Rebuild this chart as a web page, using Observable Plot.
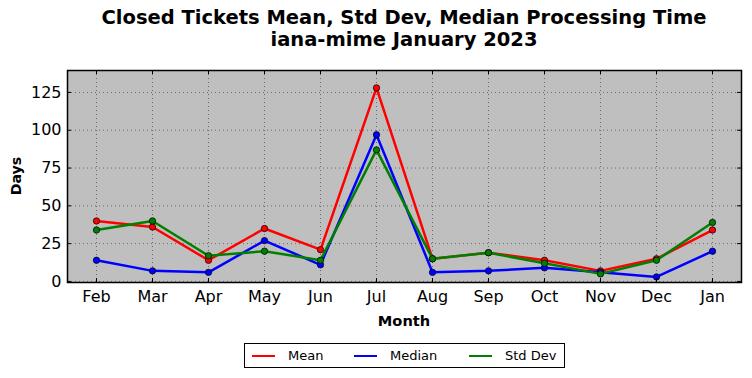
<!DOCTYPE html>
<html><head><meta charset="utf-8">
<script src="https://cdn.jsdelivr.net/npm/d3@7"></script>
<script src="https://cdn.jsdelivr.net/npm/@observablehq/plot@0.6"></script>
<style>
body{margin:0;background:#fff;font-family:"DejaVu Sans",sans-serif;}
#wrap{position:relative;width:752px;height:378px;overflow:hidden;}
#title{position:absolute;left:54px;width:700px;top:7px;text-align:center;font-weight:bold;font-size:19.5px;line-height:22px;color:#000;}
#chart{position:absolute;left:0;top:62px;}
#chart svg g[aria-label="x-axis tick label"], #chart svg g[aria-label="y-axis tick label"]{font-family:"DejaVu Sans" !important;font-size:16px !important;}
#legend{position:absolute;left:244px;top:343px;width:319px;height:23px;border:1px solid #000;background:#fff;font-size:13px;}
.li{position:absolute;top:0;height:23px;line-height:23px;}
.sw{position:absolute;top:11px;width:23px;height:0;border-top:2.5px solid;}
#ylab{position:absolute;left:16px;top:176px;transform:translate(-50%,-50%) rotate(-90deg);font-weight:bold;font-size:14.2px;white-space:nowrap;}
#xlab{position:absolute;left:404px;top:320px;transform:translate(-50%,-50%);font-weight:bold;font-size:14.6px;white-space:nowrap;}
</style></head>
<body><div id="wrap">
<div id="title">Closed Tickets Mean, Std Dev, Median Processing Time<br>iana-mime January 2023</div>
<div id="chart"></div>
<div id="ylab">Days</div>
<div id="xlab">Month</div>
<div id="legend"></div>
</div>
<script>
const months = ["Feb","Mar","Apr","May","Jun","Jul","Aug","Sep","Oct","Nov","Dec","Jan"];
const meanVals   = [40, 36, 14, 35, 21, 128, 15, 19, 14, 7, 15, 34];
const medianVals = [14, 7, 6, 27, 11, 97, 6, 7, 9, 6, 3, 20];
const stdVals    = [34, 40, 17, 20, 14, 87, 15, 19, 12, 5, 14, 39];
const seriesNames = ["Mean","Median","Std Dev"];
const seriesColors = ["#ff0000","#0000ff","#008000"];
const yTicks = [0,25,50,75,100,125];

const allVals = [meanVals, medianVals, stdVals];
const data = [];
seriesNames.forEach((s,i)=>months.forEach((m,j)=>data.push({series:s, month:m, value:allVals[i][j]})));

const W = 752, H = 276, mT = 8, mB = 56, mL = 67, mR = 11;
const ph = H - mT - mB, pw = W - mL - mR;
const tk = 4;

const marks = [
  Plot.frame({fill:"#bfbfbf", stroke:"none"}),
  Plot.gridX(months, {x:d=>d, stroke:"#000", strokeOpacity:0.45, strokeDasharray:"1,3"}),
  Plot.gridY(yTicks, {y:d=>d, stroke:"#000", strokeOpacity:0.45, strokeDasharray:"1,3"}),
];
seriesNames.forEach((s,i)=>{
  const d = data.filter(r=>r.series===s);
  marks.push(Plot.line(d, {x:"month", y:"value", stroke:seriesColors[i], strokeWidth:2.5}));
  marks.push(Plot.dot(d, {x:"month", y:"value", fill:seriesColors[i], stroke:"#000", strokeWidth:0.7, r:3.2}));
});
marks.push(
  Plot.ruleX(months, {x:d=>d, insetTop: ph - tk, stroke:"#000"}),
  Plot.ruleX(months, {x:d=>d, insetBottom: ph - tk, stroke:"#000"}),
  Plot.ruleY(yTicks, {y:d=>d, insetRight: pw - tk, stroke:"#000"}),
  Plot.ruleY(yTicks, {y:d=>d, insetLeft: pw - tk, stroke:"#000"}),
  Plot.axisX({tickSize:0, tickPadding:8, label:null, fontSize:16}),
  Plot.axisY(yTicks, {tickSize:0, tickPadding:6, label:null, fontSize:16}),
  Plot.frame({stroke:"#000", strokeWidth:1.5})
);

const chart = Plot.plot({
  width: W, height: H, marginTop: mT, marginBottom: mB, marginLeft: mL, marginRight: mR,
  style: {fontSize:"16px", fontFamily:"DejaVu Sans", color:"#000", background:"transparent"},
  x: {type:"point", domain: months, padding: 0.48},
  y: {domain:[-0.7, 139.5]},
  marks
});
document.getElementById("chart").appendChild(chart);

const lg = document.getElementById("legend");
const pos = [[7,43],[109,145],[224,260]];
seriesNames.forEach((s,i)=>{
  const sw = document.createElement("div"); sw.className="sw";
  sw.style.left = pos[i][0]+"px"; sw.style.borderTopColor = seriesColors[i];
  lg.appendChild(sw);
  const t = document.createElement("div"); t.className="li"; t.style.left = pos[i][1]+"px"; t.textContent = s;
  lg.appendChild(t);
});
</script>
</body></html>
